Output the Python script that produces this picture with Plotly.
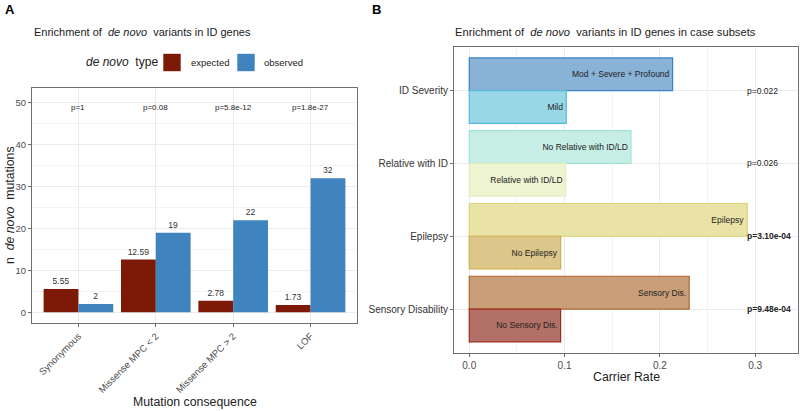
import plotly.graph_objects as go

# ---------------- data ----------------
consequences = ["Synonymous", "Missense MPC < 2", "Missense MPC > 2", "LOF"]
series_names = ["expected", "observed"]
expected = [5.55, 12.59, 2.78, 1.73]
observed = [2, 19, 22, 32]
pvals_a = ["p=1", "p=0.08", "p=5.8e-12", "p=1.8e-27"]

subsets = ["ID Severity", "Relative with ID", "Epilepsy", "Sensory Disability"]
upper_labels = ["Mod + Severe + Profound", "No Relative with ID/LD", "Epilepsy", "Sensory Dis."]
upper_rates = [0.2134, 0.1697, 0.2917, 0.2308]
lower_labels = ["Mild", "Relative with ID/LD", "No Epilepsy", "No Sensory Dis."]
lower_rates = [0.1018, 0.1011, 0.0959, 0.0959]
pvals_b = ["p=0.022", "p=0.026", "<b>p=3.10e-04</b>", "<b>p=9.48e-04</b>"]

# ---------------- styles ----------------
FONT = "Liberation Sans, Arial, Helvetica, sans-serif"
C_EXP = "#7d1a07"
C_OBS = "#3f84bf"
upper_fill = ["#88b2d6", "#c6eee4", "#e9e4a6", "#c89f78"]
upper_line = ["#3b82c4", "#a0e3d2", "#dcd27a", "#b0652f"]
lower_fill = ["#98d7e6", "#eef3d2", "#dcc68a", "#b37066"]
lower_line = ["#55b8d9", "#e4edc0", "#cdae50", "#9c2c1c"]
GRID = "#ebebeb"
MINOR = "#f4f4f4"
BORDER = "#6e6e6e"
TICKC = "#4d4d4d"

W, H = 800, 411
def px(x):
    return x / W
def py(y):
    return (H - y) / H

fig = go.Figure()

def fmt(v):
    return f"{v:g}"

fig.add_trace(go.Bar(
    x=consequences, y=expected, name=series_names[0], marker=dict(color=C_EXP, line=dict(width=0)),
    text=[fmt(v) for v in expected], textposition="outside", cliponaxis=False,
    textfont=dict(size=8.5, color="#333333", family=FONT), xaxis="x", yaxis="y",
))
fig.add_trace(go.Bar(
    x=consequences, y=observed, name=series_names[1], marker=dict(color=C_OBS, line=dict(width=0)),
    text=[fmt(v) for v in observed], textposition="outside", cliponaxis=False,
    textfont=dict(size=8.5, color="#333333", family=FONT), xaxis="x", yaxis="y",
))

fig.add_trace(go.Bar(
    y=subsets, x=upper_rates, orientation="h", showlegend=False,
    marker=dict(color=upper_fill, line=dict(color=upper_line, width=1.2)),
    text=upper_labels, textposition="inside", insidetextanchor="end",
    insidetextfont=dict(size=8.5, color="#222222", family=FONT),
    xaxis="x2", yaxis="y2", offsetgroup="u",
))
fig.add_trace(go.Bar(
    y=subsets, x=lower_rates, orientation="h", showlegend=False,
    marker=dict(color=lower_fill, line=dict(color=lower_line, width=1.2)),
    text=lower_labels, textposition="inside", insidetextanchor="end",
    insidetextfont=dict(size=8.5, color="#222222", family=FONT),
    xaxis="x2", yaxis="y2", offsetgroup="l",
))

ann = []
for c, p in zip(consequences, pvals_a):
    ann.append(dict(x=c, y=49, xref="x", yref="y", text=p, showarrow=False,
                    font=dict(size=8, color="#222222", family=FONT)))
for s, p in zip(subsets, pvals_b):
    ann.append(dict(x=0.289, y=s, xref="x2", yref="y2", text=p, showarrow=False, xanchor="left",
                    font=dict(size=8.5, color="#222222", family=FONT)))

def pann(x, y, text, size, xanchor="left", angle=0, color="#222222"):
    return dict(x=px(x), y=py(y), xref="paper", yref="paper", text=text, showarrow=False,
                xanchor=xanchor, yanchor="middle", textangle=angle,
                font=dict(size=size, color=color, family=FONT))

ann += [
    pann(3, 10, "<b>A</b>", 13, color="#000000"),
    pann(370, 10, "<b>B</b>", 13, color="#000000"),
    pann(32, 32, "Enrichment of  <i>de novo</i>  variants in ID genes", 11),
    pann(453, 32, "Enrichment of  <i>de novo</i>  variants in ID genes in case subsets", 11.2),
    pann(10, 205, "n  <i>de novo</i>  mutations", 12.3, xanchor="center", angle=-90),
    pann(195, 402, "Mutation consequence", 12.3, xanchor="center"),
    pann(626, 377, "Carrier Rate", 12.3, xanchor="center"),
    # legend (drawn as a ggplot-style key row)
    pann(84, 62, "<i>de novo</i>  type", 12),
    pann(189, 62, series_names[0], 9.5),
    pann(262, 62, series_names[1], 9.5),
]

shapes = [
    dict(type="rect", xref="paper", yref="paper", x0=px(163), x1=px(181), y0=py(71.5), y1=py(53.5),
         fillcolor=C_EXP, line=dict(width=0.6, color="#ffffff")),
    dict(type="rect", xref="paper", yref="paper", x0=px(237), x1=px(255), y0=py(71.5), y1=py(53.5),
         fillcolor=C_OBS, line=dict(width=0.6, color="#ffffff")),
]

axis_common = dict(showline=True, linecolor=BORDER, linewidth=1, mirror=True,
                   ticks="outside", ticklen=3, tickcolor=BORDER, automargin=False,
                   gridcolor=GRID, gridwidth=1, zeroline=False)

fig.update_layout(
    width=W, height=H, margin=dict(l=0, r=0, t=0, b=0, autoexpand=False),
    paper_bgcolor="white", plot_bgcolor="white",
    font=dict(family=FONT),
    barmode="group", bargap=0.1, bargroupgap=0,
    showlegend=False,
    xaxis=dict(domain=[px(32), px(357)], range=[-0.6, 3.6], anchor="y",
               tickangle=-45, showgrid=True, tickfont=dict(size=9.5, color=TICKC, family=FONT),
               **axis_common),
    yaxis=dict(domain=[py(323), py(88)], range=[-2.55, 53.55], anchor="x",
               tickvals=[0, 10, 20, 30, 40, 50], showgrid=True,
               tickfont=dict(size=9.5, color=TICKC, family=FONT),
               minor=dict(tickvals=[5, 15, 25, 35, 45], showgrid=True, gridcolor=MINOR, gridwidth=0.5, ticks=""),
               **axis_common),
    xaxis2=dict(domain=[px(454), px(798)], range=[-0.016, 0.345], anchor="y2",
                tickvals=[0, 0.1, 0.2, 0.3], ticktext=["0.0", "0.1", "0.2", "0.3"], showgrid=True,
                minor=dict(tickvals=[0.05, 0.15, 0.25], showgrid=True, gridcolor=MINOR, gridwidth=0.5, ticks=""),
                tickfont=dict(size=10, color=TICKC, family=FONT),
                **axis_common),
    yaxis2=dict(domain=[py(352.7), py(47)], anchor="x2", categoryorder="array", categoryarray=subsets,
                range=[3.6, -0.6], showgrid=True,
                tickfont=dict(size=10, color="#333333", family=FONT),
                **axis_common),
    annotations=ann,
    shapes=shapes,
)

fig.write_html("out.html", config={"displayModeBar": False},
               post_script="document.body.style.margin='0';document.body.style.overflow='hidden';")
